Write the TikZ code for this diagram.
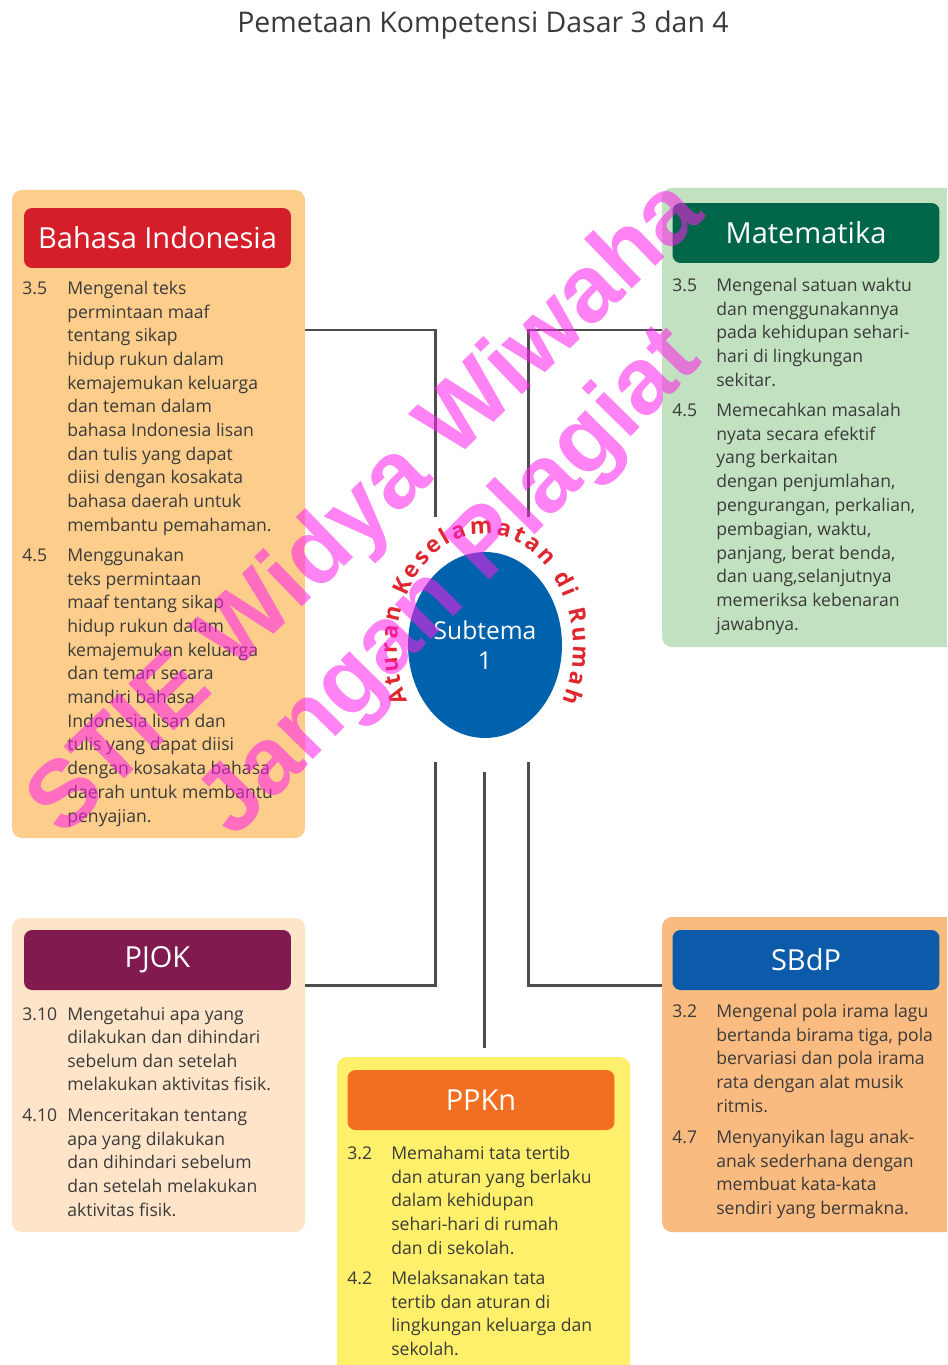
\documentclass[tikz,border=0pt]{standalone}
\usepackage{fontspec}
\setmainfont{Open Sans}
\setsansfont{Open Sans}
\newfontfamily\wmfont{Liberation Sans}
\usetikzlibrary{shapes.geometric,fit,decorations.text}

\definecolor{kdgray}{HTML}{3A3A3A}
\definecolor{linkgray}{HTML}{4D4D4D}
\definecolor{biback}{HTML}{FDCE8B}
\definecolor{bihead}{HTML}{D41F2B}
\definecolor{mtback}{HTML}{C2E1C0}
\definecolor{mthead}{HTML}{00664A}
\definecolor{pjback}{HTML}{FEE4C8}
\definecolor{pjhead}{HTML}{801A4F}
\definecolor{ppback}{HTML}{FEF06A}
\definecolor{pphead}{HTML}{F26F22}
\definecolor{sbback}{HTML}{F9BB7F}
\definecolor{sbhead}{HTML}{0B5BAA}
\definecolor{subblue}{HTML}{0062AD}
\definecolor{ringred}{HTML}{E0262E}
\definecolor{wmpink}{RGB}{255,30,235}

\tikzset{
  panel/.style={rounded corners=0.2cm, inner sep=0pt},
  hdr/.style={rounded corners=0.16cm, minimum width=5.34cm, minimum height=1.2cm,
    inner sep=0pt, text=white, font=\fontsize{16.5}{19}\selectfont},
  kdnum/.style={anchor=west, inner sep=0pt, text height=7pt, text depth=2pt,
    text=kdgray, font=\fontsize{10}{12}\selectfont},
  kdline/.style={kdnum},
  link/.style={draw=linkgray, line width=1.7pt},
  watermark/.style={text=wmpink, text opacity=0.55, inner sep=0pt,
    font=\wmfont\bfseries\fontsize{54}{54}\selectfont}
}

\begin{document}
\begin{tikzpicture}[x=0.02cm,y=-0.02cm]
\clip (0,0) rectangle (947,1365);
\fill[white] (0,0) rectangle (947,1365);

% judul
\node[text=kdgray, font=\fontsize{16.2}{19}\selectfont] (judul) at (483,25) {Pemetaan Kompetensi Dasar 3 dan 4};

% kotak mata pelajaran
\node[panel, fill=biback, fit={(12,190) (305,838)}] (bahasa) {};
\node[panel, fill=mtback, fit={(662,188) (965,647)}] (matematika) {};
\node[panel, fill=pjback, fit={(12,918) (305,1232)}] (pjok) {};
\node[panel, fill=ppback, fit={(337,1057) (630,1390)}] (ppkn) {};
\node[panel, fill=sbback, fit={(662,917) (965,1232)}] (sbdp) {};

\node[hdr, fill=bihead] (bahasa-hd) at (157.5,238) {Bahasa Indonesia};
\node[hdr, fill=mthead] (matematika-hd) at (806,233) {Matematika};
\node[hdr, fill=pjhead] (pjok-hd) at (157.5,960) {PJOK};
\node[hdr, fill=pphead] (ppkn-hd) at (481,1100) {PPKn};
\node[hdr, fill=sbhead] (sbdp-hd) at (806,960) {SBdP};

% garis penghubung
\coordinate (topy) at (0,330);
\coordinate (boty) at (0,985);
\coordinate (tl) at (435,517);
\coordinate (tr) at (528,517);
\coordinate (bl) at (435,762);
\coordinate (br) at (528,762);
\coordinate (bm) at (484,772);
\draw[link] (bahasa.east |- topy) -| (tl);
\draw[link] (matematika.west |- topy) -| (tr);
\draw[link] (bl) |- (pjok.east |- boty);
\draw[link] (br) |- (sbdp.west |- boty);
\draw[link, shorten >=0.18cm] (bm) -- (bm |- ppkn.north);

% subtema
\node[ellipse, fill=subblue, minimum width=3.08cm, minimum height=3.72cm, inner sep=0pt,
  text=white, align=center, font=\fontsize{14}{17}\selectfont] (subtema) at (485,645) {Subtema\\1};
\path[decorate, decoration={text along path, text align=fit to path, text color=ringred,
  text={|\bfseries\fontsize{13}{14}\selectfont|Aturan Keselamatan di Rumah}}]
  (485,648) ++(-208:88 and 114) arc[start angle=-208, end angle=28, x radius=88, y radius=114];

% Bahasa Indonesia
\node[kdnum] (bi-n1) at (22,290) {3.5};
\foreach \t [count=\i from 0] in {Mengenal teks, permintaan maaf, tentang sikap, hidup rukun dalam,
  kemajemukan keluarga, dan teman dalam, bahasa Indonesia lisan, dan tulis yang dapat,
  diisi dengan kosakata, bahasa daerah untuk, membantu pemahaman.}
  \node[kdline] (bi-a\i) at (67,290+23.7*\i) {\t};
\node[kdnum] (bi-n2) at (22,557) {4.5};
\foreach \t [count=\i from 0] in {Menggunakan, teks permintaan, maaf tentang sikap, hidup rukun dalam,
  kemajemukan keluarga, dan teman secara, mandiri bahasa, Indonesia lisan dan,
  tulis yang dapat diisi, dengan kosakata bahasa, daerah untuk membantu, penyajian.}
  \node[kdline] (bi-b\i) at (67,557+23.7*\i) {\t};

% Matematika
\node[kdnum] (mt-n1) at (672,287) {3.5};
\foreach \t [count=\i from 0] in {Mengenal satuan waktu, dan menggunakannya, pada kehidupan sehari-,
  hari di lingkungan, sekitar.}
  \node[kdline] (mt-a\i) at (716,287+23.75*\i) {\t};
\node[kdnum] (mt-n2) at (672,412) {4.5};
\foreach \t [count=\i from 0] in {Memecahkan masalah, nyata secara efektif, yang berkaitan,
  {dengan penjumlahan,}, {pengurangan, perkalian,}, {pembagian, waktu,}, {panjang, berat benda,},
  {dan uang,selanjutnya}, memeriksa kebenaran, jawabnya.}
  \node[kdline] (mt-b\i) at (716,412+23.8*\i) {\t};

% PJOK
\node[kdnum] (pj-n1) at (22,1016) {3.10};
\foreach \t [count=\i from 0] in {Mengetahui apa yang, dilakukan dan dihindari, sebelum dan setelah,
  melakukan aktivitas fisik.}
  \node[kdline] (pj-a\i) at (67,1016+23.5*\i) {\t};
\node[kdnum] (pj-n2) at (22,1117) {4.10};
\foreach \t [count=\i from 0] in {Menceritakan tentang, apa yang dilakukan, dan dihindari sebelum,
  dan setelah melakukan, aktivitas fisik.}
  \node[kdline] (pj-b\i) at (67,1117+23.7*\i) {\t};

% PPKn
\node[kdnum] (pp-n1) at (347,1155) {3.2};
\foreach \t [count=\i from 0] in {Memahami tata tertib, dan aturan yang berlaku, dalam kehidupan,
  sehari-hari di rumah, dan di sekolah.}
  \node[kdline] (pp-a\i) at (391,1155+23.75*\i) {\t};
\node[kdnum] (pp-n2) at (347,1280) {4.2};
\foreach \t [count=\i from 0] in {Melaksanakan tata, tertib dan aturan di, lingkungan keluarga dan,
  sekolah.}
  \node[kdline] (pp-b\i) at (391,1280+23.7*\i) {\t};

% SBdP
\node[kdnum] (sb-n1) at (672,1013) {3.2};
\foreach \t [count=\i from 0] in {Mengenal pola irama lagu, {bertanda birama tiga, pola},
  bervariasi dan pola irama, rata dengan alat musik, ritmis.}
  \node[kdline] (sb-a\i) at (716,1013+23.75*\i) {\t};
\node[kdnum] (sb-n2) at (672,1139) {4.7};
\foreach \t [count=\i from 0] in {Menyanyikan lagu anak-, anak sederhana dengan, membuat kata-kata,
  sendiri yang bermakna.}
  \node[kdline] (sb-b\i) at (716,1139+23.7*\i) {\t};

% tanda air
\node[watermark, rotate=44] (wm1) at (368,510) {STIE Widya Wiwaha};
\node[watermark, rotate=45.5] (wm2) at (452,584) {Jangan Plagiat};
\end{tikzpicture}
\end{document}
